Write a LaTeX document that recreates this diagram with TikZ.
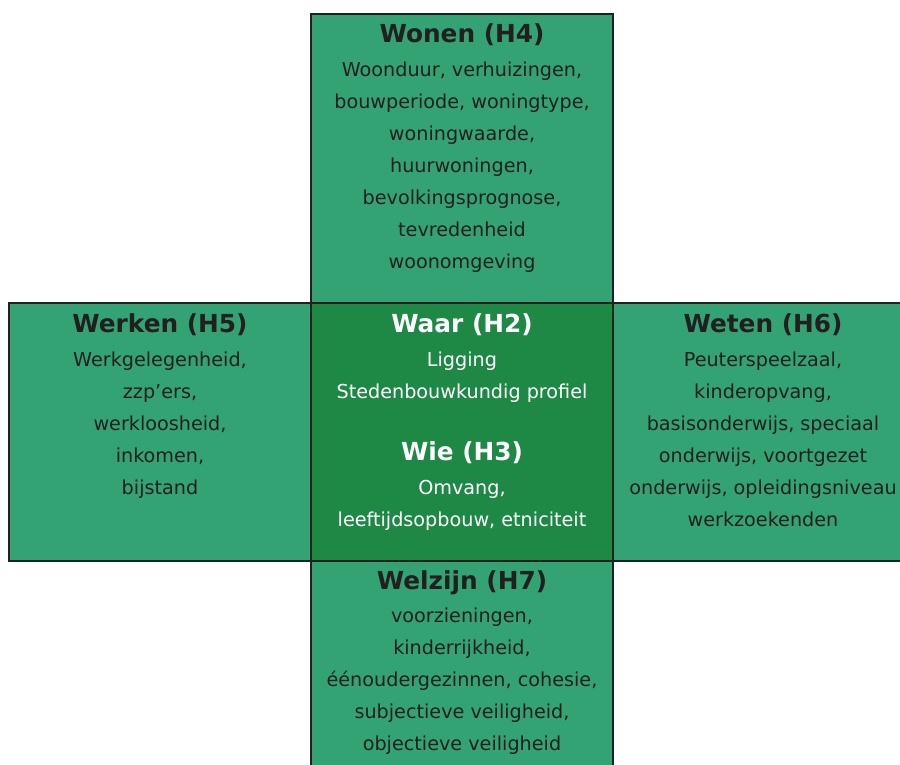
\documentclass[tikz,border=0pt]{standalone}
\usepackage{fontspec}
\setmainfont{DejaVu Sans}
\usetikzlibrary{positioning}
\definecolor{vakgroen}{RGB}{51,163,116}
\definecolor{kerngroen}{RGB}{30,137,69}
\definecolor{inkt}{RGB}{35,31,32}
\begin{document}
\begin{tikzpicture}[x=0.5pt,y=-0.5pt,
    vak/.style={fill=vakgroen, draw=inkt, line width=1pt},
    kop/.style={font=\fontsize{12.4}{14}\selectfont\bfseries, text=inkt, inner sep=0pt, anchor=north},
    lijst/.style={font=\fontsize{9.6}{16}\selectfont, text=inkt, align=center, inner sep=0pt, anchor=north},
    wit/.style={text=white}]
    \useasboundingbox (0,0) rectangle (900,765);
    \clip (0,0) rectangle (900,765);
    % vakken
    \draw [vak] (311,14) rectangle (613,303);
    \draw [vak] (9,303) rectangle (311,561);
    \draw [vak] (613,303) rectangle (910,561);
    \draw [vak] (311,561) rectangle (613,775);
    \draw [vak, fill=kerngroen] (311,303) rectangle (613,561);
    % wonen
    \node [kop] (wonen) at (462,23) {Wonen (H4)};
    \node [lijst, below=8pt of wonen] (wonenlijst) {Woonduur, verhuizingen,\\bouwperiode, woningtype,\\woningwaarde,\\huurwoningen,\\bevolkingsprognose,\\tevredenheid\\woonomgeving};
    % werken
    \node [kop] (werken) at (160,313) {Werken (H5)};
    \node [lijst, below=8pt of werken] (werkenlijst) {Werkgelegenheid,\\zzp’ers,\\werkloosheid,\\inkomen,\\bijstand};
    % waar en wie
    \node [kop, wit] (waar) at (462,313) {Waar (H2)};
    \node [lijst, wit, below=8pt of waar] (waarlijst) {Ligging\\Stedenbouwkundig profiel};
    \node [kop, wit, below=19pt of waarlijst] (wie) {Wie (H3)};
    \node [lijst, wit, below=8pt of wie] (wielijst) {Omvang,\\leeftijdsopbouw, etniciteit};
    % weten
    \node [kop] (weten) at (763,313) {Weten (H6)};
    \node [lijst, below=8pt of weten] (wetenlijst) {Peuterspeelzaal,\\kinderopvang,\\basisonderwijs, speciaal\\onderwijs, voortgezet\\onderwijs, opleidingsniveau\\werkzoekenden};
    % welzijn
    \node [kop] (welzijn) at (462,570) {Welzijn (H7)};
    \node [lijst, below=6.5pt of welzijn] (welzijnlijst) {voorzieningen,\\kinderrijkheid,\\éénoudergezinnen, cohesie,\\subjectieve veiligheid,\\objectieve veiligheid};
\end{tikzpicture}
\end{document}
